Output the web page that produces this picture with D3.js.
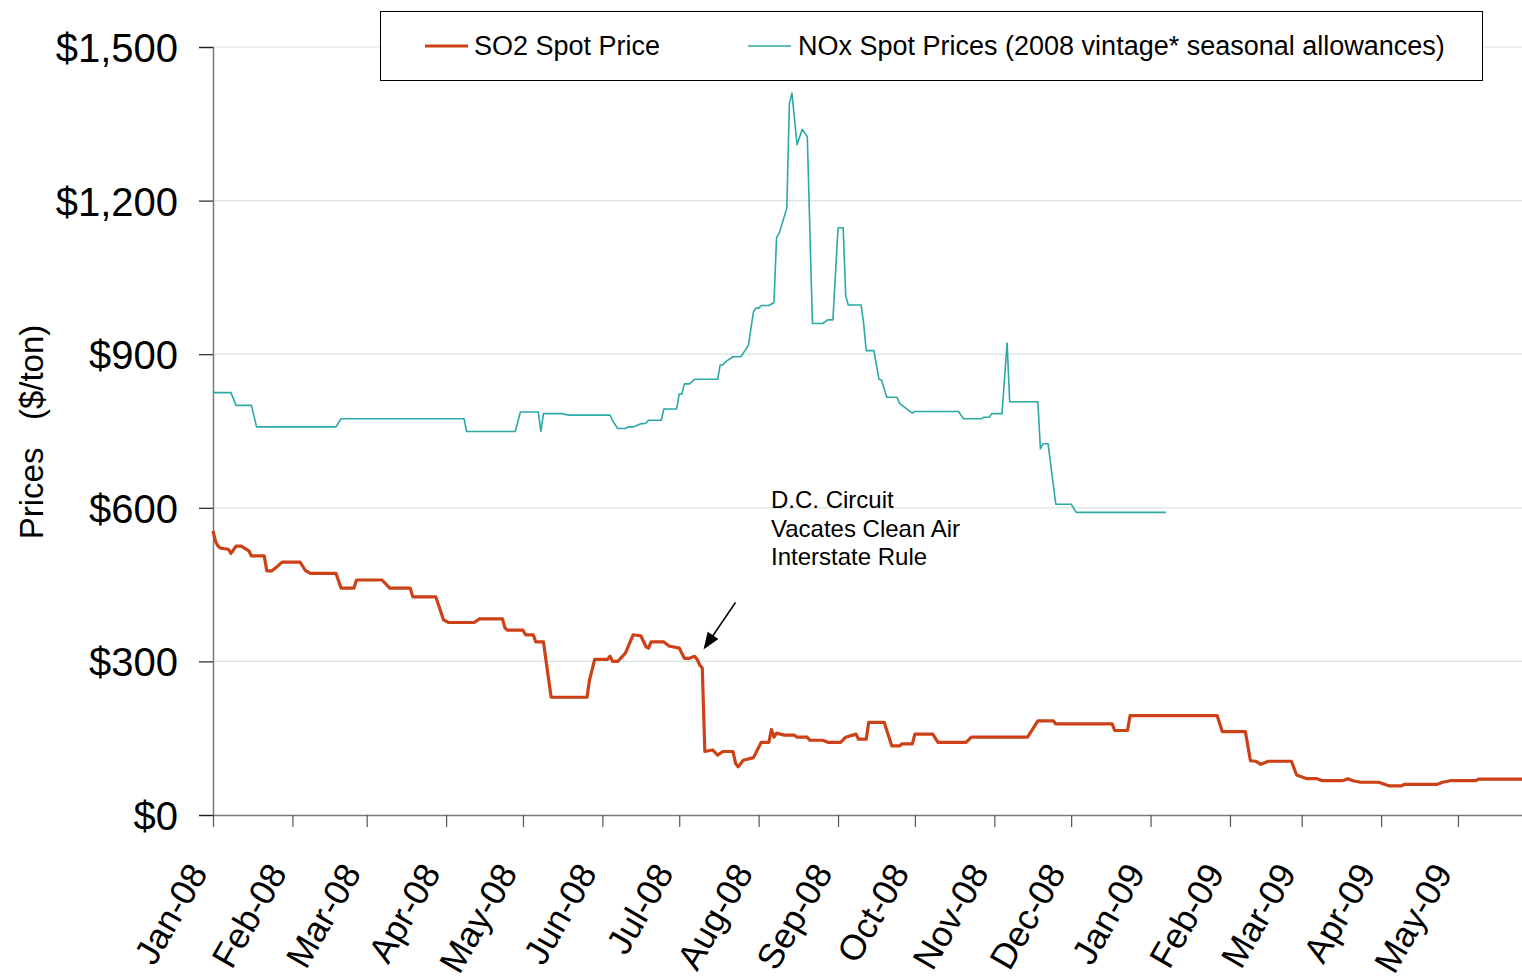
<!DOCTYPE html>
<html>
<head>
<meta charset="utf-8">
<script src="https://cdn.jsdelivr.net/npm/d3@7/dist/d3.min.js"></script>
<style>
  html, body { margin: 0; padding: 0; background: #fff; }
  svg { display: block; font-family: "Liberation Sans", Arial, sans-serif; }
</style>
</head>
<body>
<svg id="chart" width="1522" height="979"></svg>
<script>
// ---------------- DATA ----------------
const seriesNames = ["SO2 Spot Price", "NOx Spot Prices (2008 vintage* seasonal allowances)"];

const so2Dates = ["2008-01-01","2008-01-02","2008-01-03","2008-01-04","2008-01-07","2008-01-08","2008-01-10","2008-01-12","2008-01-15","2008-01-16","2008-01-21","2008-01-22","2008-01-24","2008-01-26","2008-01-28","2008-02-04","2008-02-06","2008-02-08","2008-02-18","2008-02-20","2008-02-25","2008-02-26","2008-03-07","2008-03-10","2008-03-18","2008-03-19","2008-03-28","2008-03-31","2008-04-02","2008-04-12","2008-04-14","2008-04-23","2008-04-24","2008-04-25","2008-05-01","2008-05-02","2008-05-05","2008-05-06","2008-05-09","2008-05-12","2008-05-26","2008-05-27","2008-05-29","2008-06-03","2008-06-04","2008-06-05","2008-06-07","2008-06-10","2008-06-13","2008-06-16","2008-06-18","2008-06-19","2008-06-20","2008-06-25","2008-06-27","2008-07-01","2008-07-03","2008-07-05","2008-07-07","2008-07-08","2008-07-09","2008-07-10","2008-07-11","2008-07-14","2008-07-16","2008-07-18","2008-07-22","2008-07-23","2008-07-24","2008-07-26","2008-07-30","2008-08-02","2008-08-05","2008-08-06","2008-08-07","2008-08-08","2008-08-11","2008-08-15","2008-08-16","2008-08-20","2008-08-21","2008-08-26","2008-08-28","2008-09-02","2008-09-04","2008-09-08","2008-09-09","2008-09-12","2008-09-13","2008-09-19","2008-09-22","2008-09-25","2008-09-26","2008-09-30","2008-10-01","2008-10-08","2008-10-10","2008-10-21","2008-10-23","2008-11-14","2008-11-18","2008-11-24","2008-11-25","2008-12-17","2008-12-18","2008-12-23","2008-12-24","2009-01-27","2009-01-29","2009-02-07","2009-02-09","2009-02-11","2009-02-13","2009-02-16","2009-02-25","2009-02-27","2009-03-03","2009-03-07","2009-03-09","2009-03-17","2009-03-19","2009-03-21","2009-03-24","2009-03-31","2009-04-04","2009-04-09","2009-04-10","2009-04-23","2009-04-25","2009-04-28","2009-05-08","2009-05-09","2009-05-26"];
const so2Values = [555,534,525,521,519,511,525,525,516,506,506,477,477,485,494,494,478,472,472,443,443,459,459,443,443,426,426,381,376,376,383,383,365,361,361,352,352,338,338,230,230,264,304,304,310,300,300,316,352,350,329,326,338,338,330,326,306,306,310,304,293,287,124,127,117,124,124,101,94,107,112,142,142,167,152,160,156,156,152,152,146,146,142,142,152,158,148,148,181,181,135,135,139,139,158,158,142,142,152,152,184,184,178,178,165,165,194,194,163,163,106,105,99,105,105,78,71,71,67,67,71,67,64,64,57,57,60,60,64,67,67,70,70];

const noxDates = ["2008-01-01","2008-01-08","2008-01-10","2008-01-16","2008-01-18","2008-02-18","2008-02-20","2008-04-08","2008-04-09","2008-04-28","2008-04-30","2008-05-07","2008-05-08","2008-05-09","2008-05-16","2008-05-19","2008-06-04","2008-06-05","2008-06-07","2008-06-10","2008-06-11","2008-06-13","2008-06-16","2008-06-18","2008-06-19","2008-06-24","2008-06-25","2008-06-30","2008-07-01","2008-07-02","2008-07-03","2008-07-05","2008-07-07","2008-07-16","2008-07-17","2008-07-18","2008-07-19","2008-07-22","2008-07-25","2008-07-26","2008-07-28","2008-07-30","2008-07-31","2008-08-01","2008-08-02","2008-08-05","2008-08-07","2008-08-08","2008-08-09","2008-08-12","2008-08-13","2008-08-14","2008-08-16","2008-08-18","2008-08-20","2008-08-22","2008-08-26","2008-08-28","2008-08-30","2008-09-01","2008-09-03","2008-09-04","2008-09-05","2008-09-10","2008-09-11","2008-09-12","2008-09-15","2008-09-17","2008-09-18","2008-09-20","2008-09-24","2008-09-25","2008-09-26","2008-09-30","2008-10-01","2008-10-18","2008-10-20","2008-10-27","2008-10-28","2008-10-30","2008-10-31","2008-11-04","2008-11-06","2008-11-07","2008-11-18","2008-11-19","2008-11-20","2008-11-22","2008-11-25","2008-12-01","2008-12-03","2009-01-07"];
const noxValues = [825,825,800,800,758,758,774,774,749,749,787,787,749,784,784,781,781,770,755,755,758,758,764,765,771,771,793,793,822,822,842,842,851,851,879,879,885,895,895,902,917,983,990,990,995,995,1001,1128,1136,1185,1389,1410,1309,1339,1325,960,960,967,967,1147,1147,1014,996,996,960,907,907,851,849,816,816,804,800,785,788,788,774,774,777,777,784,784,922,807,807,715,725,725,607,607,591,591];

const yTickValues = [0, 300, 600, 900, 1200, 1500];
const xTickLabels = ["Jan-08","Feb-08","Mar-08","Apr-08","May-08","Jun-08","Jul-08","Aug-08","Sep-08","Oct-08","Nov-08","Dec-08","Jan-09","Feb-09","Mar-09","Apr-09","May-09"];
const xDomain = ["2008-01-01", "2009-05-26"];
const annotationLines = ["D.C. Circuit", "Vacates Clean Air", "Interstate Rule"];
const yTitle = "Prices\u00a0\u00a0\u00a0($/ton)";

// ---------------- CHART ----------------
const parseDay = d3.timeParse("%Y-%m-%d");
const parseMonth = d3.timeParse("%b-%y");
const svg = d3.select("#chart");

const plot = { left: 213, right: 1522, top: 47, bottom: 815 };
const x = d3.scaleTime().domain(xDomain.map(parseDay)).range([plot.left, plot.right]);
const y = d3.scaleLinear().domain([0, 1500]).range([plot.bottom, plot.top]);

const colors = { so2: "#cc4116", nox: "#2aa9a7" };
const fontFamily = '"Liberation Sans", Arial, sans-serif';

// gridlines
svg.append("g").selectAll("line").data(yTickValues.filter(v => v > 0)).join("line")
  .attr("x1", plot.left).attr("x2", plot.right)
  .attr("y1", d => y(d)).attr("y2", d => y(d))
  .attr("stroke", "#d9e3e3").attr("stroke-width", 1.2);

// y axis
const yAxis = svg.append("g").attr("transform", `translate(${plot.left},0)`)
  .call(d3.axisLeft(y).tickValues(yTickValues).tickSize(14).tickPadding(21)
    .tickFormat(d => "$" + d3.format(",")(d)));
yAxis.select(".domain").attr("stroke", "#7a7a7a").attr("stroke-width", 1.5);
yAxis.selectAll(".tick line").attr("stroke", "#222").attr("stroke-width", 1.2);
yAxis.selectAll(".tick text").attr("font-size", 40).attr("fill", "#000")
  .attr("font-family", fontFamily).attr("dy", "0.36em");

// x axis
const xTickDates = xTickLabels.map(parseMonth);
const xAxis = svg.append("g").attr("transform", `translate(0,${plot.bottom})`)
  .call(d3.axisBottom(x).tickValues(xTickDates).tickSize(12).tickSizeOuter(0)
    .tickFormat((d, i) => xTickLabels[i]));
xAxis.select(".domain").attr("stroke", "#7a7a7a").attr("stroke-width", 1.5);
xAxis.selectAll(".tick line").attr("stroke", "#555").attr("stroke-width", 1.2);
xAxis.selectAll(".tick text")
  .attr("font-size", 35.5).attr("fill", "#000").attr("font-family", fontFamily)
  .attr("text-anchor", "end").attr("y", 0).attr("dy", 0)
  .attr("transform", "translate(-5,58) rotate(-60)");

// y title
svg.append("text")
  .attr("transform", `translate(43,432) rotate(-90)`)
  .attr("text-anchor", "middle")
  .attr("font-size", 33).attr("font-family", fontFamily).attr("fill", "#000")
  .text(yTitle);

// lines
const so2 = so2Dates.map((d, i) => ({ date: parseDay(d), value: so2Values[i] }));
const nox = noxDates.map((d, i) => ({ date: parseDay(d), value: noxValues[i] }));
const line = d3.line().x(d => x(d.date)).y(d => y(d.value));

svg.append("path").datum(nox).attr("d", line)
  .attr("fill", "none").attr("stroke", colors.nox).attr("stroke-width", 1.6)
  .attr("stroke-linejoin", "round");
svg.append("path").datum(so2).attr("d", line)
  .attr("fill", "none").attr("stroke", colors.so2).attr("stroke-width", 3.2)
  .attr("stroke-linejoin", "round");

// annotation
const ann = svg.append("text").attr("font-size", 24).attr("font-family", fontFamily).attr("fill", "#000");
annotationLines.forEach((t, i) => {
  ann.append("tspan").attr("x", 771).attr("y", 508 + i * 28.5).text(t);
});

// arrow
svg.append("line")
  .attr("x1", 735.5).attr("y1", 602.5).attr("x2", 712).attr("y2", 637)
  .attr("stroke", "#000").attr("stroke-width", 1.5);
(function() {
  const x1 = 735.5, y1 = 602.5, x2 = 703.5, y2 = 649.5;
  const ang = Math.atan2(y2 - y1, x2 - x1);
  const L = 17, W = 6.5;
  const bx = x2 - L * Math.cos(ang), by = y2 - L * Math.sin(ang);
  const px = -Math.sin(ang) * W, py = Math.cos(ang) * W;
  svg.append("path")
    .attr("d", `M${x2},${y2} L${bx + px},${by + py} L${bx - px},${by - py} Z`)
    .attr("fill", "#000");
})();

// legend
const legend = svg.append("g");
legend.append("rect").attr("x", 380.5).attr("y", 11.5).attr("width", 1102).attr("height", 69)
  .attr("fill", "#fff").attr("stroke", "#000").attr("stroke-width", 1);
const legendItems = [
  { name: seriesNames[0], color: colors.so2, width: 3.2, x0: 425, x1: 468, tx: 474 },
  { name: seriesNames[1], color: colors.nox, width: 1.6, x0: 748, x1: 791, tx: 798 }
];
legendItems.forEach(it => {
  legend.append("line").attr("x1", it.x0).attr("x2", it.x1).attr("y1", 46).attr("y2", 46)
    .attr("stroke", it.color).attr("stroke-width", it.width);
  legend.append("text").attr("x", it.tx).attr("y", 54.5)
    .attr("font-size", 27).attr("font-family", fontFamily).attr("fill", "#000")
    .text(it.name);
});
</script>
</body>
</html>
